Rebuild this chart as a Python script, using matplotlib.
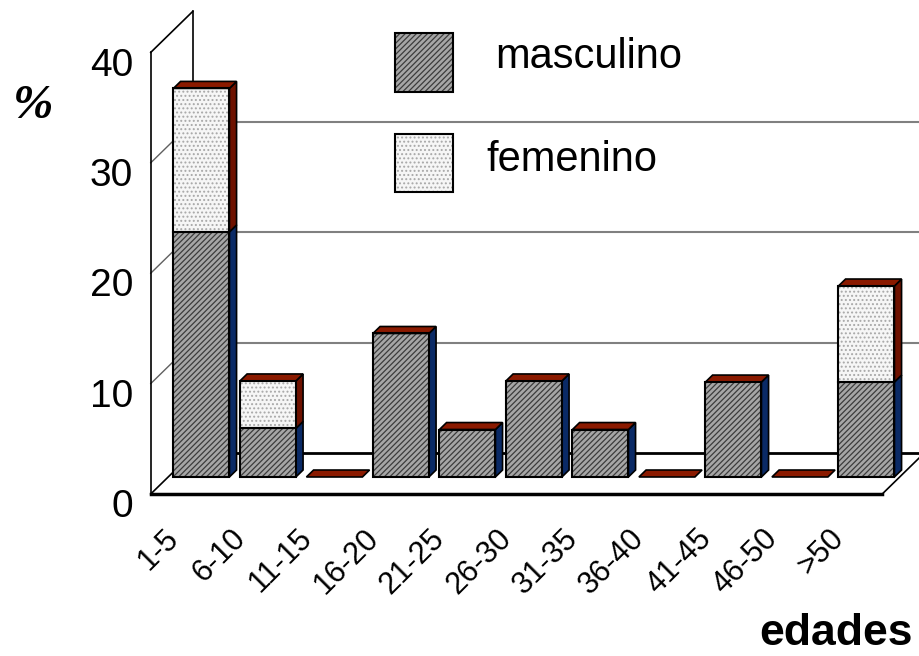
import matplotlib
matplotlib.use("Agg")
import matplotlib.pyplot as plt
from matplotlib.patches import Rectangle, Polygon

# datos (porcentaje por grupo de edad)
categorias = ["1-5", "6-10", "11-15", "16-20", "21-25", "26-30",
              "31-35", "36-40", "41-45", "46-50", ">50"]
masculino = [22.2, 4.4, 0, 13.0, 4.3, 8.7, 4.3, 0, 8.6, 0, 8.6]
femenino = [13.0, 4.3, 0, 0, 0, 0, 0, 0, 0, 0, 8.7]
yticks = [0, 10, 20, 30, 40]

plt.rcParams["font.family"] = ["Liberation Sans", "DejaVu Sans"]
plt.rcParams["hatch.linewidth"] = 0.9

# 3d look: depth of the box and of each bar
PX_X, PX_Y = 66.5, 11.04        # pixels per category / per percent
DX, DY = 42 / PX_X, 41 / PX_Y   # full depth of floor
F0, FD = 0.415, 0.17            # bar start depth, bar depth
W = 0.842                       # bar width
n = len(categorias)
x_lo, x_hi = -0.5, n - 0.5
ymax = 40

C_TOP = "#8b1a00"
C_SIDE_F = "#6e1200"
C_SIDE_M = "#0a2a66"

fig = plt.figure(figsize=(9.19, 6.56), dpi=100)
ax = fig.add_axes([0, 0, 1, 1])
ax.set_xlim(-184 / PX_X, (919 - 184) / PX_X)
ax.set_ylim(-(656 - 494) / PX_Y, 494 / PX_Y)
ax.axis("off")

# walls and gridlines
for v in yticks[1:-1]:
    ax.plot([x_lo + DX, x_hi + DX + 1], [v + DY, v + DY], color="#808080", lw=1.5, zorder=1)
    ax.plot([x_lo, x_lo + DX], [v, v + DY], color="#606060", lw=1, zorder=1)
ax.plot([x_lo, x_lo], [0, ymax], color="black", lw=1.2, zorder=2)
ax.plot([x_lo + DX, x_lo + DX], [DY, ymax + DY], color="black", lw=1.2, zorder=2)
ax.plot([x_lo, x_lo + DX], [ymax, ymax + DY], color="black", lw=1.2, zorder=2)
ax.plot([x_lo, x_lo + DX], [0, DY], color="black", lw=1.2, zorder=2)
ax.plot([x_lo + DX, x_hi + DX + 1], [DY, DY], color="black", lw=2, zorder=2)
ax.plot([x_lo, x_hi], [0, 0], color="black", lw=2.5, zorder=2)
ax.plot([x_hi, x_hi + DX], [0, DY], color="black", lw=1.2, zorder=2)


def face(x0, y0, w, h, fc, hatch, hc):
    ax.add_patch(Rectangle((x0, y0), w, h, facecolor=fc, hatch=hatch,
                           edgecolor=hc, lw=0, zorder=5))
    ax.add_patch(Rectangle((x0, y0), w, h, fill=False, edgecolor="black",
                           lw=1.5, zorder=6))


def side(x0, y0, h, fc):
    pts = [(x0, y0), (x0, y0 + h), (x0 + FD * DX, y0 + h + FD * DY),
           (x0 + FD * DX, y0 + FD * DY)]
    ax.add_patch(Polygon(pts, closed=True, facecolor=fc, edgecolor="black",
                         lw=1.2, zorder=5))


def top(x0, y0):
    pts = [(x0, y0), (x0 + W, y0), (x0 + W + FD * DX, y0 + FD * DY),
           (x0 + FD * DX, y0 + FD * DY)]
    ax.add_patch(Polygon(pts, closed=True, facecolor=C_TOP, edgecolor="black",
                         lw=1.2, zorder=5))


for i in range(n):
    x0 = i - W / 2 + F0 * DX
    base = F0 * DY
    m, f = masculino[i], femenino[i]
    if m > 0:
        face(x0, base, W, m, "#a6a6a6", "//////", "#3c3c3c")
        side(x0 + W, base, m, C_SIDE_M)
    if f > 0:
        face(x0, base + m, W, f, "#f6f6f6", "....", "#a8a8a8")
        side(x0 + W, base + m, f, C_SIDE_F)
    top(x0, base + m + f)

# tick labels
for v in yticks:
    ax.text(-0.767, v - 1.2, str(v), ha="right", va="center", fontsize=28)
for i, lab in enumerate(categorias):
    ax.text(i - 0.06, -4.15, lab, ha="right", va="baseline", rotation=45,
            rotation_mode="anchor", fontsize=22)

ax.text(-2.27, 35.1, "%", ha="center", va="center", fontsize=35,
        family="Liberation Serif", style="italic", weight="bold")
ax.text(10.96, -13.7, "edades", ha="right", va="baseline", fontsize=32,
        weight="bold")

# legend
face(3.17, 36.4, 0.873, 5.35, "#a6a6a6", "//////", "#3c3c3c")
face(3.17, 27.35, 0.873, 5.25, "#f6f6f6", "....", "#a8a8a8")
ax.text(4.68, 39.6, "masculino", ha="left", va="center", fontsize=30)
ax.text(4.54, 30.25, "femenino", ha="left", va="center", fontsize=30)

fig.savefig("out.png", dpi=100)
